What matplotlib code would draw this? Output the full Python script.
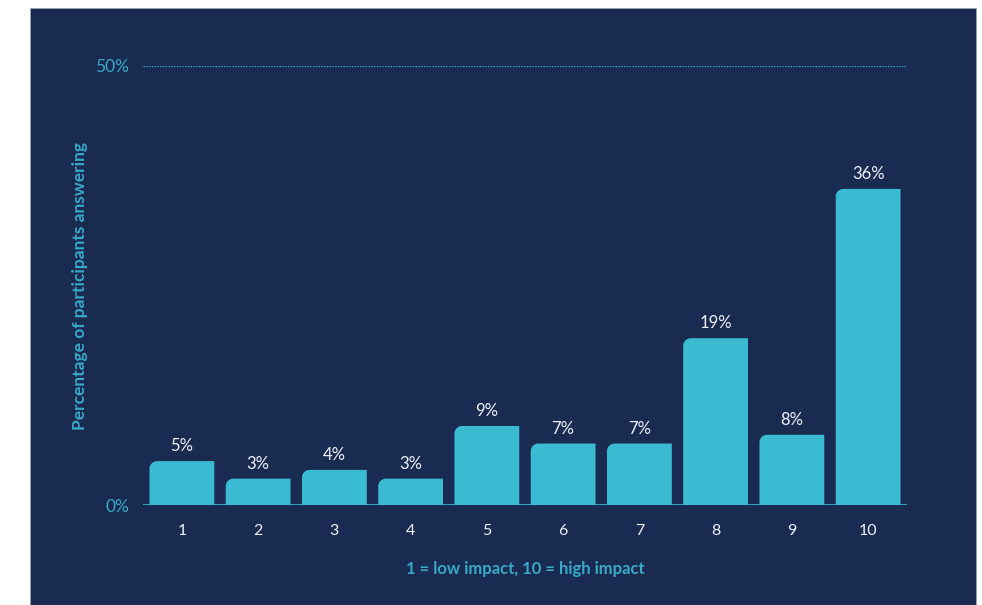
import matplotlib.pyplot as plt
from matplotlib.patches import Rectangle, PathPatch
from matplotlib.path import Path

categories = [1, 2, 3, 4, 5, 6, 7, 8, 9, 10]
shares = [5, 3, 4, 3, 9, 7, 7, 19, 8, 36]
tick_labels = [str(c) for c in categories]

NAVY = '#1a2b51'
TEAL = '#3bbbd1'
AXIS_TEAL = '#38a9c6'
LABEL = '#eef2f7'

plt.rcParams['font.family'] = ['Lato', 'DejaVu Sans']

fig = plt.figure(figsize=(9.82, 6.05), dpi=100, facecolor='white')
# dark card behind the chart
fig.patches.append(Rectangle((30 / 982, 0), 946 / 982, 597 / 605,
                             transform=fig.transFigure, facecolor=NAVY,
                             edgecolor='#9aa3b5', linewidth=0.6, zorder=-5))

ax = fig.add_axes([143 / 982, 100 / 605, 764 / 982, 439 / 605])
ax.set_facecolor('none')
ax.set_xlim(0.49, 10.51)
ax.set_ylim(0, 50)


def rounded_bar(x, h, w, rx, ry):
    # bar with only the top-left corner rounded
    l, r = x - w / 2, x + w / 2
    k = 0.552
    verts = [(l, 0), (r, 0), (r, h), (l + rx, h),
             (l + rx * (1 - k), h), (l, h - ry * (1 - k)), (l, h - ry),
             (l, 0)]
    codes = [Path.MOVETO, Path.LINETO, Path.LINETO, Path.LINETO,
             Path.CURVE4, Path.CURVE4, Path.CURVE4, Path.CLOSEPOLY]
    return PathPatch(Path(verts, codes), facecolor=TEAL, edgecolor='none', zorder=3)


for c, v in zip(categories, shares):
    ax.add_patch(rounded_bar(c, v, 0.85, 0.1, 0.85))
    ax.annotate(f'{v}%', (c, v), xytext=(0, 5), textcoords='offset points',
                ha='center', va='bottom', color=LABEL, fontsize=12)

# baseline and dotted 50% line
ax.axhline(0, color=TEAL, linewidth=1.2, zorder=4)
ax.axhline(50, color=AXIS_TEAL, linewidth=1, linestyle=(0, (1, 1)), zorder=2)

for s in ax.spines.values():
    s.set_visible(False)

ax.set_xticks(categories)
ax.set_xticklabels(tick_labels, color=LABEL, fontsize=11.5)
ax.set_yticks([0, 50])
ax.set_yticklabels(['0%', '50%'], color=AXIS_TEAL, fontsize=12.5)
ax.tick_params(axis='both', length=0)
ax.tick_params(axis='x', pad=14)
ax.tick_params(axis='y', pad=10)

ax.set_xlabel('1 = low impact, 10 = high impact', color=AXIS_TEAL,
              fontsize=12, fontweight='bold', labelpad=16)
ax.set_ylabel('Percentage of participants answering', color=AXIS_TEAL,
              fontsize=12.5, fontweight='bold')
ax.yaxis.set_label_coords(-55 / 764, 0.5)

fig.savefig('out.png', dpi=100, facecolor='white')
